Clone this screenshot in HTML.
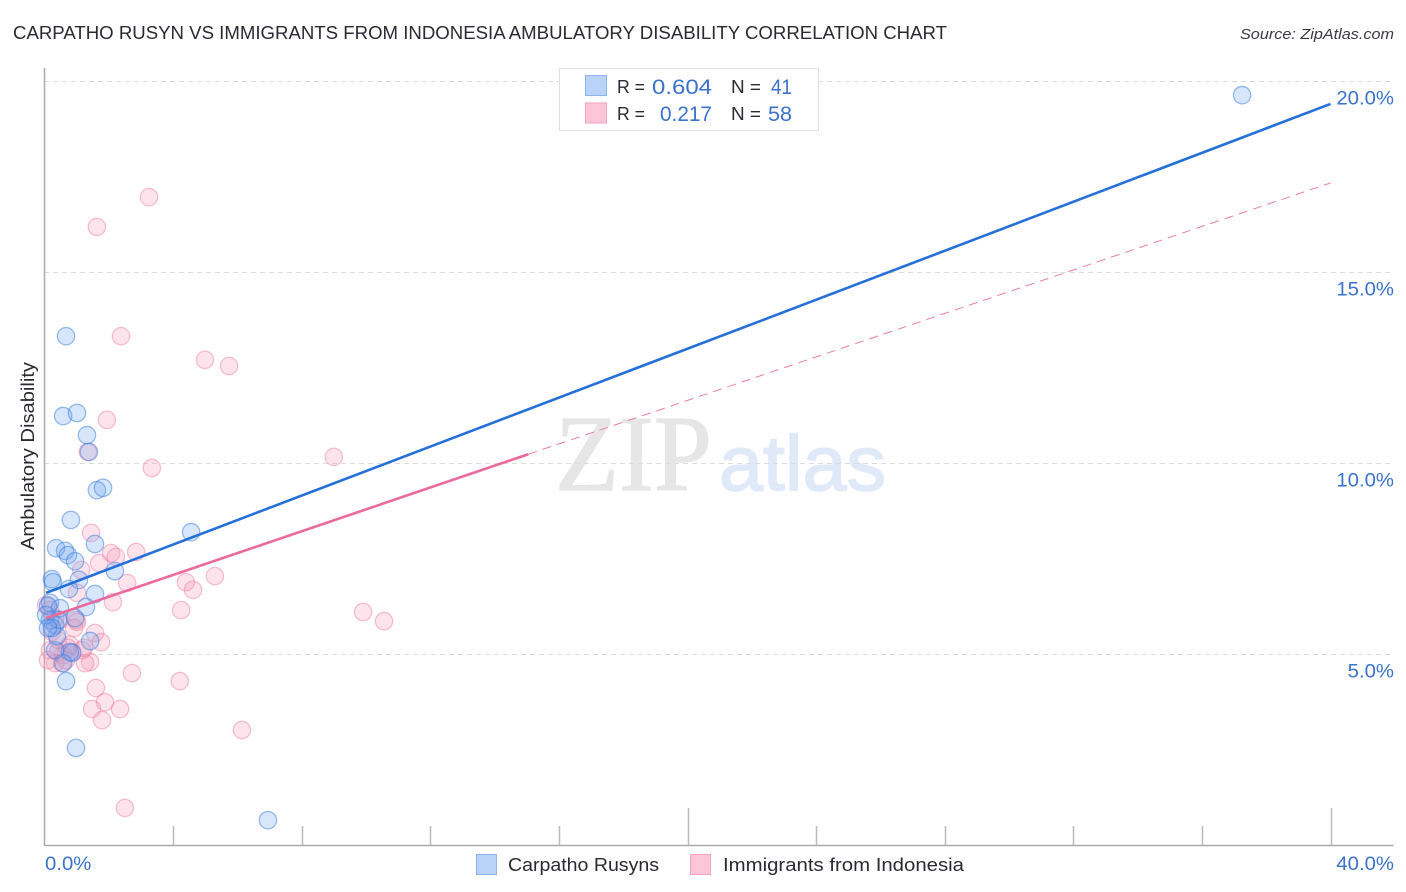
<!DOCTYPE html>
<html lang="en">
<head>
<meta charset="utf-8">
<title>Carpatho Rusyn vs Immigrants from Indonesia Ambulatory Disability Correlation Chart</title>
<style>
html,body{margin:0;padding:0;background:#fff;}
svg{display:block;font-family:"Liberation Sans",sans-serif;}
</style>
</head>
<body>
<svg id="chart" width="1406" height="892" viewBox="0 0 1406 892" xmlns="http://www.w3.org/2000/svg">
  <rect x="0" y="0" width="1406" height="892" fill="#ffffff"/>
  <text x="13" y="39" font-size="18" fill="#2a2a33" textLength="934" lengthAdjust="spacingAndGlyphs">CARPATHO RUSYN VS IMMIGRANTS FROM INDONESIA AMBULATORY DISABILITY CORRELATION CHART</text>
  <text x="1394" y="39" font-size="15" font-style="italic" fill="#3a3a44" text-anchor="end" textLength="154" lengthAdjust="spacingAndGlyphs">Source: ZipAtlas.com</text>

  <g>
    <text x="555" y="490" font-family="'Liberation Serif',serif" font-size="108" fill="#e6e6e6" stroke="#e6e6e6" stroke-width="1.2" textLength="157" lengthAdjust="spacingAndGlyphs">ZIP</text>
    <text x="719" y="490" font-size="78" fill="#dfe9f8" stroke="#dfe9f8" stroke-width="1.5" textLength="167" lengthAdjust="spacingAndGlyphs">atlas</text>
  </g>

  <g id="grid"></g>
  <g id="axes"></g>
  <g id="pink-points"></g>
  <g id="blue-points"></g>
  <g id="lines"></g>

  <text transform="translate(34,456) rotate(-90)" font-size="18" fill="#2a2a33" text-anchor="middle" textLength="188" lengthAdjust="spacingAndGlyphs">Ambulatory Disability</text>

  <g>
    <rect x="559.5" y="68.5" width="259" height="62" fill="#ffffff" stroke="#e0e0e0" stroke-width="1"/>
    <rect x="585.5" y="75.5" width="21" height="20" fill="#b9d3f8" stroke="#8db3ea" stroke-width="1"/>
    <rect x="585.5" y="103" width="21" height="20" fill="#fdc6d8" stroke="#f3a3bd" stroke-width="1"/>
    <text x="617" y="93" font-size="18" fill="#2a2a33" textLength="28" lengthAdjust="spacingAndGlyphs">R =</text>
    <text x="652" y="94" font-size="21" fill="#3a72cc" textLength="60" lengthAdjust="spacingAndGlyphs">0.604</text>
    <text x="731" y="93" font-size="18" fill="#2a2a33" textLength="30" lengthAdjust="spacingAndGlyphs">N =</text>
    <text x="771" y="94" font-size="21" fill="#3a72cc" textLength="21" lengthAdjust="spacingAndGlyphs">41</text>
    <text x="617" y="120" font-size="18" fill="#2a2a33" textLength="28" lengthAdjust="spacingAndGlyphs">R =</text>
    <text x="660" y="121" font-size="21" fill="#3a72cc" textLength="52" lengthAdjust="spacingAndGlyphs">0.217</text>
    <text x="731" y="120" font-size="18" fill="#2a2a33" textLength="30" lengthAdjust="spacingAndGlyphs">N =</text>
    <text x="768" y="121" font-size="21" fill="#3a72cc" textLength="24" lengthAdjust="spacingAndGlyphs">58</text>
  </g>

  <g>
    <rect x="476.5" y="854.5" width="20" height="20" fill="#b9d3f8" stroke="#8db3ea" stroke-width="1"/>
    <text x="508" y="871" font-size="18" fill="#2a2a33" textLength="151" lengthAdjust="spacingAndGlyphs">Carpatho Rusyns</text>
    <rect x="690.5" y="854.5" width="20" height="20" fill="#fdc6d8" stroke="#f3a3bd" stroke-width="1"/>
    <text x="723" y="871" font-size="18" fill="#2a2a33" textLength="241" lengthAdjust="spacingAndGlyphs">Immigrants from Indonesia</text>
  </g>
</svg>

<script>
const yTicks = [5, 10, 15, 20];
const yTickLabels = ["5.0%", "10.0%", "15.0%", "20.0%"];
const xTicks = [0, 4, 8, 12, 16, 20, 24, 28, 32, 36, 40];
const xMajorTicks = [20, 40];
const xEdgeTicks = [0, 40];
const xEdgeTickLabels = ["0.0%", "40.0%"];

const blueX = [37.25,0.67,0.58,1.01,1.32,1.38,1.63,1.82,0.82,1.57,0.36,0.64,0.73,0.95,2.19,0.23,0.26,1.07,0.76,1.57,4.56,1.29,0.17,0.48,0.11,0.95,1.42,0.67,0.98,6.95,0.86,0.79,0.58,0.33,0.17,0.33,0.42,0.39,0.23,0.05,0.11];
const blueY = [19.63,13.32,11.23,11.31,10.73,10.29,9.29,9.35,8.51,7.88,7.77,7.70,7.59,7.43,7.17,6.96,6.88,6.94,6.70,6.57,8.19,6.23,6.34,6.20,6.26,5.94,5.34,4.29,2.54,0.65,5.03,5.05,4.76,5.10,5.89,5.76,5.89,5.47,5.68,6.02,5.68];

const pinkX = [3.25,1.63,2.38,4.99,5.74,1.94,1.35,3.34,9.0,1.45,2.07,2.22,2.85,1.70,1.14,2.57,2.13,1.01,4.40,4.62,5.30,4.25,9.91,10.56,1.57,1.76,1.01,0.92,2.72,4.21,1.60,1.88,1.48,2.35,1.79,6.14,2.50,1.42,1.26,0.33,0.54,0.73,0.86,0.42,0.58,0.98,0.48,0.17,0.05,0.33,0.23,0.42,0.67,0.79,0.11,1.17,0.17,1.23];
const pinkY = [16.96,16.18,13.32,12.70,12.54,11.13,10.29,9.87,10.16,8.17,7.64,7.54,7.67,7.38,7.20,6.86,6.36,6.60,6.88,6.68,7.04,6.15,6.10,5.86,5.55,5.31,5.84,5.68,4.50,4.29,4.11,3.74,3.56,3.56,3.27,3.01,0.97,4.79,4.76,4.76,4.76,5.16,5.05,5.05,4.97,5.89,5.89,6.15,6.28,5.94,5.58,5.37,4.84,5.24,4.84,5.10,5.10,5.16];

const blueTrendX = [0.05, 40];
const blueTrendY = [6.60, 19.40];
const pinkSolidX = [0.05, 15.05];
const pinkSolidY = [5.94, 10.23];
const pinkDashX = [15.05, 40];
const pinkDashY = [10.23, 17.33];

function xScale(v) { return 44.5 + v * 32.15; }
function yScale(v) { return 845 - v * 38.2; }

const NS = "http://www.w3.org/2000/svg";
function make(tag, parent, attrs) {
  const el = document.createElementNS(NS, tag);
  Object.keys(attrs).forEach(function (k) { el.setAttribute(k, attrs[k]); });
  parent.appendChild(el);
  return el;
}
function widen(label) {
  label.setAttribute("textLength", (label.getComputedTextLength() * 1.07).toFixed(1));
  label.setAttribute("lengthAdjust", "spacingAndGlyphs");
}

const grid = document.getElementById("grid");
const axes = document.getElementById("axes");
const pinkGroup = document.getElementById("pink-points");
const blueGroup = document.getElementById("blue-points");
const linesGroup = document.getElementById("lines");

yTicks.forEach(function (t, i) {
  const y = Math.round(yScale(t)) + 0.5;
  const g = make("line", grid, { x1: 44, x2: 1393, y1: y, y2: y, stroke: "#dcdcdc", "stroke-width": 1, "stroke-dasharray": "5 4" });
  
  
  const lab = make("text", axes, { x: 1394, y: yScale(t) + 23.5, "font-size": 19, fill: "#3a72cc", "text-anchor": "end" });
  
  
  lab.textContent = yTickLabels[i];
  widen(lab);
});

const yAxis = make("line", axes, { x1: 44.5, x2: 44.5, y1: 68, y2: 846, stroke: "#aaaaaa", "stroke-width": 1.5 });


const xAxis = make("line", axes, { x1: 44, x2: 1393.5, y1: 845.5, y2: 845.5, stroke: "#aaaaaa", "stroke-width": 1.5 });



xTicks.forEach(function (t) {
  if (t === 0) return;
  const x = Math.round(xScale(t)) + 0.5;
  const top = xMajorTicks.indexOf(t) >= 0 ? 808 : 826;
  const tick = make("line", axes, { x1: x, x2: x, y1: top, y2: 845, stroke: "#bbbbbb", "stroke-width": 1.5 });
  
  
});

xEdgeTicks.forEach(function (t, i) {
  const isFirst = i === 0;
  const lab = make("text", axes, { x: isFirst ? xScale(t) + 0.5 : 1394, y: 870, "font-size": 19, fill: "#3a72cc", "text-anchor": isFirst ? "start" : "end" });
  
  
  lab.textContent = xEdgeTickLabels[i];
  widen(lab);
});

pinkX.forEach(function (v, i) {
  const c = make("circle", pinkGroup, { cx: xScale(v), cy: yScale(pinkY[i]), r: 8.7, fill: "rgba(246,150,182,0.27)", stroke: "rgba(236,125,165,0.45)", "stroke-width": 1.3 });
  
  
});

blueX.forEach(function (v, i) {
  const c = make("circle", blueGroup, { cx: xScale(v), cy: yScale(blueY[i]), r: 8.7, fill: "rgba(110,165,240,0.28)", stroke: "rgba(60,125,220,0.5)", "stroke-width": 1.3 });
  
  
});

const pinkDash = make("line", linesGroup, { x1: xScale(pinkDashX[0]), y1: yScale(pinkDashY[0]), x2: xScale(pinkDashX[1]), y2: yScale(pinkDashY[1]), stroke: "#ea7fa5", "stroke-width": 1, "stroke-dasharray": "9 6" });



const pinkSolid = make("line", linesGroup, { x1: xScale(pinkSolidX[0]), y1: yScale(pinkSolidY[0]), x2: xScale(pinkSolidX[1]), y2: yScale(pinkSolidY[1]), stroke: "#ea6b9b", "stroke-width": 2.6 });



const blueLine = make("line", linesGroup, { x1: xScale(blueTrendX[0]), y1: yScale(blueTrendY[0]), x2: xScale(blueTrendX[1]), y2: yScale(blueTrendY[1]), stroke: "#2470d8", "stroke-width": 2.6 });


</script>
</body>
</html>
